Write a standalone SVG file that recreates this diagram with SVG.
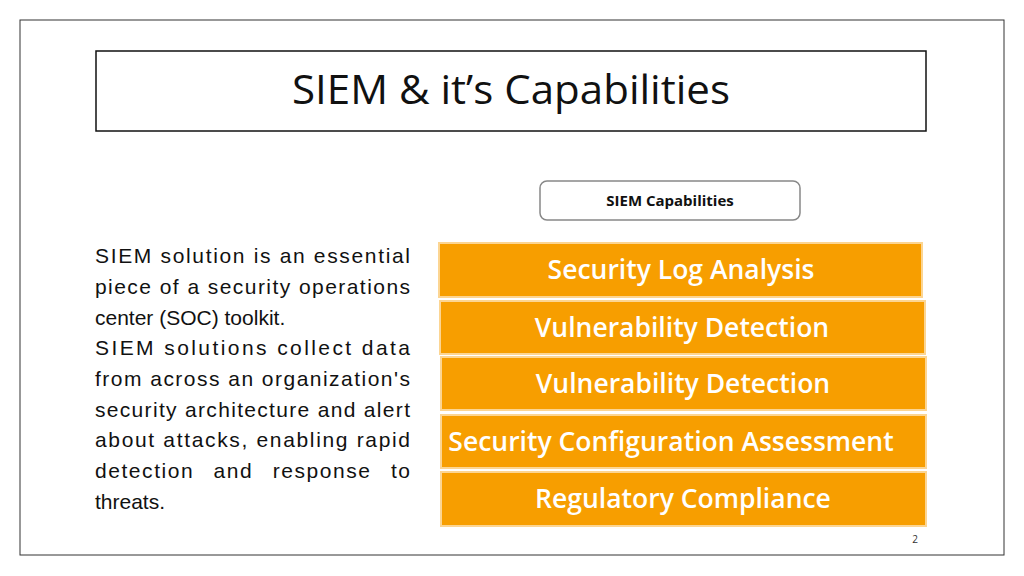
<svg xmlns="http://www.w3.org/2000/svg" width="1024" height="576" viewBox="0 0 1024 576">
<style>
.b{fill:#F79E00;stroke:#FCD592;stroke-width:2}
.bt{font-family:"Open Sans","Liberation Sans",sans-serif;font-weight:600;font-size:26.5px;fill:#fff;text-anchor:middle}
.p{font-family:"Liberation Sans",sans-serif;font-size:21px;fill:#111}
</style>
<rect x="0" y="0" width="1024" height="576" fill="#fff"/>
<rect x="20" y="20" width="984" height="535" fill="none" stroke="#333" stroke-width="1"/>
<g id="title"><rect x="96" y="51" width="830" height="80" fill="#fff" stroke="#111" stroke-width="1.5"/>
<text x="511" y="104" font-family="Open Sans, Liberation Sans, sans-serif" font-size="41" fill="#111" text-anchor="middle" textLength="438" lengthAdjust="spacingAndGlyphs">SIEM &amp; it’s Capabilities</text></g>
<g id="header"><rect x="540" y="181" width="260" height="39" rx="7" fill="#fff" stroke="#888" stroke-width="1.5"/>
<text x="670" y="206" font-family="Open Sans, Liberation Sans, sans-serif" font-weight="bold" font-size="15" fill="#111" text-anchor="middle">SIEM Capabilities</text></g>
<g id="n1"><rect class="b" x="439" y="243" width="483" height="54"/><text class="bt" x="681" y="279">Security Log Analysis</text></g>
<g id="n2"><rect class="b" x="440" y="301" width="485" height="53"/><text class="bt" x="682" y="337">Vulnerability Detection</text></g>
<g id="n3"><rect class="b" x="441" y="357" width="485" height="53"/><text class="bt" x="683" y="393">Vulnerability Detection</text></g>
<g id="n4"><rect class="b" x="441" y="415" width="485" height="53"/><text class="bt" x="671" y="451">Security Configuration Assessment</text></g>
<g id="n5"><rect class="b" x="441" y="472" width="485" height="54"/><text class="bt" x="683" y="508">Regulatory Compliance</text></g>
<g id="body" class="p">
<text x="95" y="263" textLength="315" lengthAdjust="spacing">SIEM solution is an essential</text>
<text x="95" y="294" textLength="315" lengthAdjust="spacing">piece of a security operations</text>
<text x="95" y="325">center (SOC) toolkit.</text>
<text x="95" y="355" textLength="315" lengthAdjust="spacing">SIEM solutions collect data</text>
<text x="95" y="386" textLength="315" lengthAdjust="spacing">from across an organization's</text>
<text x="95" y="417" textLength="315" lengthAdjust="spacing">security architecture and alert</text>
<text x="95" y="447" textLength="315" lengthAdjust="spacing">about attacks, enabling rapid</text>
<text x="95" y="478" textLength="315" lengthAdjust="spacing" word-spacing="12">detection and response to</text>
<text x="95" y="509">threats.</text>
</g>
<text x="915" y="543" font-family="Open Sans, Liberation Sans, sans-serif" font-size="10" fill="#333" text-anchor="middle">2</text>
<g id="connectors"/>
</svg>
